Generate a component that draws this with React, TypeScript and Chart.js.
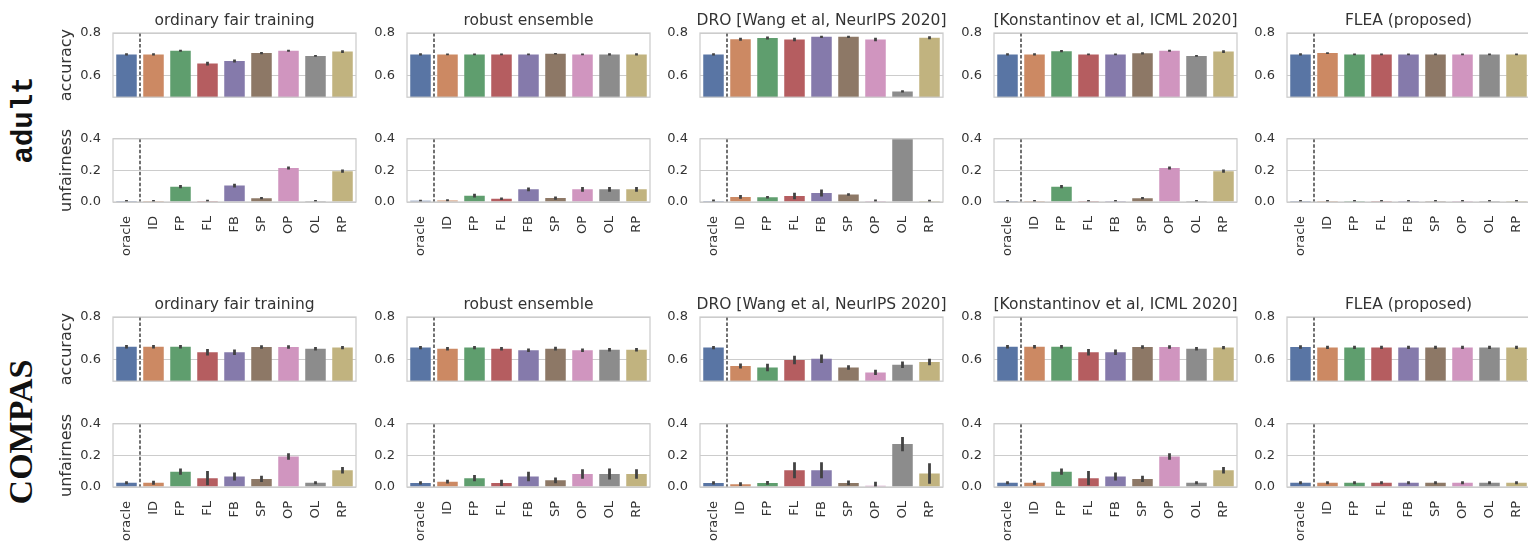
import React, { useEffect, useRef } from 'react';
import { Chart, registerables } from 'chart.js';

Chart.register(...registerables);
Chart.defaults.font.family = "'DejaVu Sans', sans-serif";

// ---------------- data ----------------
const categories = ['oracle', 'ID', 'FP', 'FL', 'FB', 'SP', 'OP', 'OL', 'RP'];
const methods = [
  'ordinary fair training',
  'robust ensemble',
  'DRO [Wang et al, NeurIPS 2020]',
  '[Konstantinov et al, ICML 2020]',
  'FLEA (proposed)',
];
const datasetNames = ['adult', 'COMPAS'];
const accuracyTicks = [0.6, 0.8];
const unfairnessTicks = [0.0, 0.2, 0.4];

// adult – accuracy
const adultAccOrdinary = [0.700, 0.700, 0.717, 0.657, 0.669, 0.706, 0.717, 0.693, 0.713];
const adultAccOrdinaryErr = [0.005, 0.005, 0.005, 0.009, 0.007, 0.005, 0.005, 0.004, 0.006];
const adultAccRobust = [0.700, 0.700, 0.700, 0.700, 0.700, 0.703, 0.700, 0.700, 0.700];
const adultAccRobustErr = [0.005, 0.004, 0.004, 0.004, 0.004, 0.004, 0.004, 0.005, 0.005];
const adultAccDRO = [0.700, 0.771, 0.777, 0.770, 0.782, 0.782, 0.770, 0.527, 0.778];
const adultAccDROErr = [0.005, 0.007, 0.007, 0.008, 0.005, 0.005, 0.008, 0.005, 0.007];
const adultAccKonst = [0.700, 0.700, 0.715, 0.700, 0.700, 0.705, 0.717, 0.693, 0.713];
const adultAccKonstErr = [0.005, 0.005, 0.005, 0.004, 0.004, 0.005, 0.005, 0.004, 0.006];
const adultAccFLEA = [0.700, 0.706, 0.700, 0.700, 0.700, 0.700, 0.700, 0.700, 0.700];
const adultAccFLEAErr = [0.005, 0.004, 0.004, 0.004, 0.004, 0.004, 0.004, 0.004, 0.004];

// adult – unfairness
const adultUnfOrdinary = [0.006, 0.006, 0.097, 0.006, 0.104, 0.024, 0.215, 0.006, 0.195];
const adultUnfOrdinaryErr = [0.007, 0.006, 0.010, 0.009, 0.012, 0.007, 0.010, 0.006, 0.010];
const adultUnfRobust = [0.008, 0.010, 0.040, 0.020, 0.080, 0.025, 0.080, 0.080, 0.080];
const adultUnfRobustErr = [0.006, 0.007, 0.012, 0.008, 0.012, 0.010, 0.015, 0.015, 0.015];
const adultUnfDRO = [0.006, 0.032, 0.030, 0.038, 0.057, 0.048, 0.006, 0.450, 0.006];
const adultUnfDROErr = [0.010, 0.012, 0.008, 0.020, 0.022, 0.008, 0.010, 0.010, 0.008];
const adultUnfKonst = [0.006, 0.006, 0.097, 0.006, 0.006, 0.024, 0.215, 0.006, 0.195];
const adultUnfKonstErr = [0.007, 0.006, 0.010, 0.007, 0.006, 0.007, 0.010, 0.006, 0.010];
const adultUnfFLEA = [0.006, 0.006, 0.006, 0.006, 0.006, 0.006, 0.006, 0.006, 0.006];
const adultUnfFLEAErr = [0.006, 0.006, 0.006, 0.006, 0.006, 0.006, 0.006, 0.006, 0.006];

// COMPAS – accuracy
const compasAccOrdinary = [0.661, 0.661, 0.661, 0.635, 0.635, 0.660, 0.660, 0.652, 0.657];
const compasAccOrdinaryErr = [0.008, 0.008, 0.008, 0.015, 0.013, 0.008, 0.008, 0.008, 0.008];
const compasAccRobust = [0.657, 0.652, 0.657, 0.652, 0.645, 0.652, 0.645, 0.647, 0.647];
const compasAccRobustErr = [0.008, 0.008, 0.008, 0.008, 0.008, 0.009, 0.008, 0.008, 0.008];
const compasAccDRO = [0.657, 0.571, 0.564, 0.599, 0.605, 0.564, 0.541, 0.577, 0.590];
const compasAccDROErr = [0.008, 0.012, 0.018, 0.020, 0.020, 0.010, 0.012, 0.015, 0.015];
const compasAccKonst = [0.661, 0.661, 0.661, 0.635, 0.635, 0.660, 0.660, 0.652, 0.657];
const compasAccKonstErr = [0.008, 0.008, 0.008, 0.015, 0.013, 0.008, 0.008, 0.008, 0.008];
const compasAccFLEA = [0.660, 0.658, 0.658, 0.658, 0.658, 0.658, 0.658, 0.658, 0.658];
const compasAccFLEAErr = [0.008, 0.008, 0.008, 0.008, 0.008, 0.008, 0.008, 0.008, 0.008];

// COMPAS – unfairness
const compasUnfOrdinary = [0.027, 0.027, 0.097, 0.056, 0.066, 0.051, 0.193, 0.027, 0.106];
const compasUnfOrdinaryErr = [0.010, 0.012, 0.020, 0.045, 0.025, 0.020, 0.020, 0.010, 0.020];
const compasUnfRobust = [0.026, 0.034, 0.056, 0.026, 0.066, 0.042, 0.082, 0.082, 0.082];
const compasUnfRobustErr = [0.010, 0.012, 0.020, 0.020, 0.030, 0.018, 0.030, 0.035, 0.030];
const compasUnfDRO = [0.026, 0.018, 0.026, 0.106, 0.106, 0.026, 0.008, 0.272, 0.085];
const compasUnfDROErr = [0.010, 0.012, 0.012, 0.050, 0.050, 0.015, 0.025, 0.045, 0.065];
const compasUnfKonst = [0.027, 0.027, 0.097, 0.056, 0.066, 0.051, 0.193, 0.027, 0.106];
const compasUnfKonstErr = [0.010, 0.012, 0.020, 0.045, 0.025, 0.020, 0.020, 0.010, 0.020];
const compasUnfFLEA = [0.027, 0.027, 0.027, 0.027, 0.027, 0.027, 0.027, 0.027, 0.027];
const compasUnfFLEAErr = [0.010, 0.010, 0.010, 0.010, 0.010, 0.010, 0.010, 0.010, 0.010];

const accuracyValues = [
  [adultAccOrdinary, adultAccRobust, adultAccDRO, adultAccKonst, adultAccFLEA],
  [compasAccOrdinary, compasAccRobust, compasAccDRO, compasAccKonst, compasAccFLEA],
];
const accuracyErrors = [
  [adultAccOrdinaryErr, adultAccRobustErr, adultAccDROErr, adultAccKonstErr, adultAccFLEAErr],
  [compasAccOrdinaryErr, compasAccRobustErr, compasAccDROErr, compasAccKonstErr, compasAccFLEAErr],
];
const unfairnessValues = [
  [adultUnfOrdinary, adultUnfRobust, adultUnfDRO, adultUnfKonst, adultUnfFLEA],
  [compasUnfOrdinary, compasUnfRobust, compasUnfDRO, compasUnfKonst, compasUnfFLEA],
];
const unfairnessErrors = [
  [adultUnfOrdinaryErr, adultUnfRobustErr, adultUnfDROErr, adultUnfKonstErr, adultUnfFLEAErr],
  [compasUnfOrdinaryErr, compasUnfRobustErr, compasUnfDROErr, compasUnfKonstErr, compasUnfFLEAErr],
];

// ---------------- style / layout ----------------
const barColors = ['#5975a4', '#cc8963', '#5f9e6e', '#b55d60', '#857aab', '#8d7866', '#d095bf', '#8c8c8c', '#c1b37f'];
const TEXT = '#333333';
const FRAME = '#cccccc';
const colLefts = [113, 407, 700, 994, 1287];
const panelW = 243;
const accTops = [33, 317];
const unfTops = [129, 414];
const accH = 74;
const unfH = 73;
const AXIS_W = 60;
const TITLE_H = 32;
const XAXIS_H = 62;

const decorPlugin = {
  id: 'decor',
  afterDatasetsDraw(chart: any) {
    const { ctx, chartArea: a } = chart;
    const ds = chart.data.datasets[0];
    const meta = chart.getDatasetMeta(0);
    const y = chart.scales.y;
    const x = chart.scales.x;
    ctx.save();
    ctx.beginPath();
    ctx.rect(a.left, a.top, a.right - a.left, a.bottom - a.top);
    ctx.clip();
    // error bars
    ctx.strokeStyle = '#424242';
    ctx.lineWidth = 2.8;
    meta.data.forEach((bar: any, i: number) => {
      const v = ds.data[i];
      const e = ds.errs[i];
      ctx.beginPath();
      ctx.moveTo(bar.x, y.getPixelForValue(v - e));
      ctx.lineTo(bar.x, y.getPixelForValue(v + e));
      ctx.stroke();
    });
    // dashed separator between oracle and the rest
    const sx = (x.getPixelForValue(0) + x.getPixelForValue(1)) / 2;
    ctx.strokeStyle = '#111111';
    ctx.lineWidth = 1.2;
    ctx.setLineDash([3.5, 2]);
    ctx.beginPath();
    ctx.moveTo(sx, a.top);
    ctx.lineTo(sx, a.bottom);
    ctx.stroke();
    ctx.restore();
    // frame
    ctx.save();
    ctx.strokeStyle = FRAME;
    ctx.lineWidth = 1.25;
    ctx.strokeRect(a.left, a.top, a.right - a.left, a.bottom - a.top);
    ctx.restore();
  },
};

type PanelProps = {
  kind: 'acc' | 'unf';
  row: number;
  col: number;
};

function Panel({ kind, row, col }: PanelProps) {
  const ref = useRef<HTMLCanvasElement>(null);
  const isAcc = kind === 'acc';
  const width = AXIS_W + panelW + AXIS_W;
  const height = isAcc ? TITLE_H + accH + 10 : 10 + unfH + XAXIS_H;
  const left = colLefts[col] - AXIS_W;
  const top = isAcc ? accTops[row] - TITLE_H : unfTops[row] - 10;

  useEffect(() => {
    const values = isAcc ? accuracyValues[row][col] : unfairnessValues[row][col];
    const errs = isAcc ? accuracyErrors[row][col] : unfairnessErrors[row][col];
    const ticks = isAcc ? accuracyTicks : unfairnessTicks;
    const chart = new Chart(ref.current as HTMLCanvasElement, {
      type: 'bar',
      data: {
        labels: categories,
        datasets: [
          {
            data: values,
            errs,
            backgroundColor: barColors,
            borderWidth: 0,
            barPercentage: 0.76,
            categoryPercentage: 1.0,
          } as any,
        ],
      },
      options: {
        responsive: false,
        animation: false,
        layout: {
          padding: isAcc
            ? { top: 0, left: 0, right: 0, bottom: 10 }
            : { top: 10, left: 0, right: 0, bottom: 0 },
        },
        plugins: {
          legend: { display: false },
          tooltip: { enabled: false },
          title: {
            display: isAcc,
            fullSize: true,
            text: methods[col],
            color: TEXT,
            font: { size: 15.5, weight: 'normal', lineHeight: '16px' } as any,
            padding: { top: 12, bottom: 4 },
          },
        },
        scales: {
          x: {
            type: 'category',
            display: !isAcc,
            offset: true,
            grid: { display: false },
            border: { display: false },
            ticks: {
              color: TEXT,
              font: { size: 13 },
              minRotation: 90,
              maxRotation: 90,
              autoSkip: false,
              padding: 6,
            },
            afterFit: (axis: any) => {
              axis.height = isAcc ? 0 : XAXIS_H;
            },
          },
          y: {
            min: isAcc ? 0.5 : 0,
            max: isAcc ? 0.8 : 0.4,
            border: { display: false },
            grid: { color: FRAME, lineWidth: 1, drawTicks: false },
            ticks: {
              color: TEXT,
              font: { size: 13 },
              padding: 12,
              callback: (v: any) => Number(v).toFixed(1),
            },
            afterBuildTicks: (axis: any) => {
              axis.ticks = ticks.map((v) => ({ value: v }));
            },
            afterFit: (axis: any) => {
              axis.width = AXIS_W;
            },
            title: {
              display: col === 0,
              text: isAcc ? 'accuracy' : 'unfairness',
              color: TEXT,
              font: { size: 16 },
              padding: { top: 4, bottom: 0 },
            },
          },
          // empty right-hand axis: mirrors the left axis width so the title centres on the panel
          yRight: {
            type: 'linear',
            position: 'right',
            display: true,
            grid: { display: false, drawTicks: false },
            border: { display: false },
            ticks: { display: false },
            afterFit: (axis: any) => {
              axis.width = AXIS_W;
            },
          },
        },
      },
      plugins: [decorPlugin],
    });
    return () => chart.destroy();
  }, []);

  return (
    <canvas
      ref={ref}
      width={width}
      height={height}
      style={{ position: 'absolute', left, top, width, height }}
    />
  );
}

const rowLabelStyles: React.CSSProperties[] = [
  { left: 24, top: 120, fontFamily: "'Liberation Mono', monospace", fontSize: 29, fontWeight: 'bold' },
  { left: 21, top: 432, fontFamily: "'Liberation Serif', serif", fontSize: 34, fontWeight: 'bold' },
];

export default function App() {
  return (
    <div
      style={{
        position: 'fixed',
        left: 0,
        top: 0,
        width: 1528,
        height: 544,
        overflow: 'hidden',
        background: '#ffffff',
      }}
    >
      {datasetNames.map((name, r) => (
        <div
          key={name}
          style={{
            position: 'absolute',
            ...rowLabelStyles[r],
            color: '#111111',
            whiteSpace: 'nowrap',
            lineHeight: 1,
            transform: 'translate(-50%, -50%) rotate(-90deg)',
          }}
        >
          {name}
        </div>
      ))}
      {datasetNames.map((_, r) =>
        methods.map((_m, c) => (
          <React.Fragment key={`${r}-${c}`}>
            <Panel kind="acc" row={r} col={c} />
            <Panel kind="unf" row={r} col={c} />
          </React.Fragment>
        ))
      )}
    </div>
  );
}
